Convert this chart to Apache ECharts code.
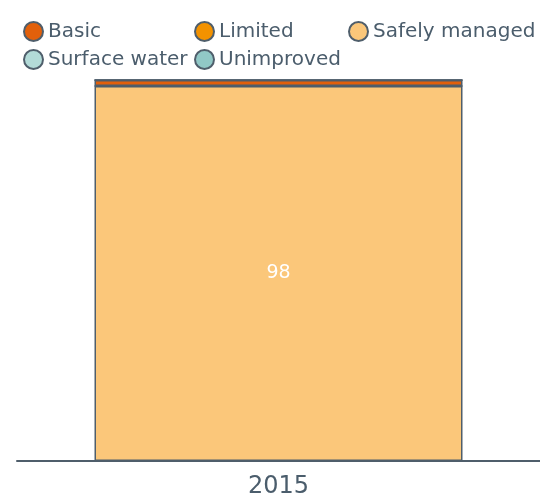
<!DOCTYPE html>
<html><head><meta charset="utf-8">
<script src="https://cdn.jsdelivr.net/npm/echarts@6/dist/echarts.min.js"></script>
<style>html,body{margin:0;padding:0;background:#fff}#c{width:540px;height:499px}</style>
</head><body><div id="c"></div>
<script>
const categories = ['2015'];
const seriesNames = ['Basic', 'Limited', 'Safely managed', 'Surface water', 'Unimproved'];
const basic = [1.6];
const limited = [0];
const safelyManaged = [98.4];
const surfaceWater = [0];
const unimproved = [0];
const colors = ['#e2600b', '#f39200', '#fbc77a', '#b3dbd8', '#91c8c6'];

const textColor = '#4b5d6c';
const edge = '#4f5e6b';
const font = 'DejaVu Sans';

const values = [basic, limited, safelyManaged, surfaceWater, unimproved];
const stackOrder = [2, 1, 0, 4, 3];

const series = stackOrder.map(i => ({
  name: seriesNames[i],
  type: 'bar',
  stack: 'total',
  barWidth: 368,
  data: values[i],
  itemStyle: { color: colors[i], borderColor: edge, borderWidth: 1.5 },
  label: {
    show: i === 2,
    position: 'inside',
    color: '#ffffff',
    fontFamily: font,
    fontSize: 19,
    formatter: p => Math.round(p.value)
  }
}));

const legendBase = {
  orient: 'vertical',
  itemWidth: 19,
  itemHeight: 19,
  itemGap: 7,
  icon: 'circle',
  selectedMode: false,
  textStyle: { color: textColor, fontFamily: font, fontSize: 20 },
  itemStyle: { borderColor: edge, borderWidth: 2 },
  padding: 0
};

const chart = echarts.init(document.getElementById('c'));
chart.setOption({
  animation: false,
  color: colors,
  legend: [
    Object.assign({}, legendBase, { left: 23, top: 21, data: [seriesNames[0], seriesNames[3]] }),
    Object.assign({}, legendBase, { left: 194, top: 21, data: [seriesNames[1], seriesNames[4]] }),
    Object.assign({}, legendBase, { left: 348, top: 21, data: [seriesNames[2]] })
  ],
  grid: { left: 17, right: -1, top: 80, bottom: 34, containLabel: false },
  xAxis: {
    type: 'category',
    data: categories,
    axisLine: { lineStyle: { color: edge, width: 2 } },
    axisTick: { show: false },
    axisLabel: { color: textColor, fontFamily: font, fontSize: 24, margin: 14 }
  },
  yAxis: {
    type: 'value',
    min: 0,
    max: 100,
    show: false
  },
  series: series
});
</script></body></html>
